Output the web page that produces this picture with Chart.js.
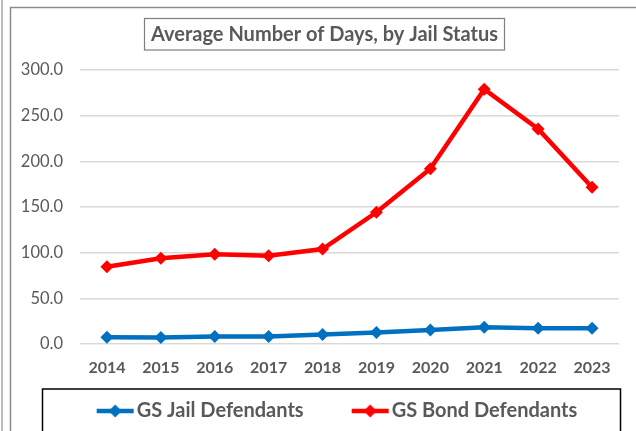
<!DOCTYPE html>
<html>
<head>
<meta charset="utf-8">
<style>
  html, body { margin: 0; padding: 0; background: #ffffff; }
  #wrap { width: 636px; height: 431px; position: relative; }
</style>
<script src="https://cdn.jsdelivr.net/npm/chart.js@4.4.1/dist/chart.umd.min.js"></script>
</head>
<body>
<div id="wrap"><canvas id="c" width="636" height="431"></canvas></div>
<script>
const years = ['2014', '2015', '2016', '2017', '2018', '2019', '2020', '2021', '2022', '2023'];
const jailDays = [7.4, 7.2, 8.2, 8.2, 10.3, 12.7, 15.2, 18.4, 17.2, 17.3];
const bondDays = [84.6, 93.8, 98.2, 96.7, 104.0, 144.2, 192.0, 278.9, 235.4, 171.6];
const seriesNames = ['GS Jail Defendants', 'GS Bond Defendants'];
const chartTitle = 'Average Number of Days, by Jail Status';

const BLUE = '#0070c0';
const RED = '#ff0000';
const GREY_TEXT = '#595959';
const FONT = 'Lato';

function legendMarker(color) {
  const cv = document.createElement('canvas');
  cv.width = 100; cv.height = 16;
  const g = cv.getContext('2d');
  g.strokeStyle = color; g.lineWidth = 4.5;
  g.beginPath(); g.moveTo(54, 8); g.lineTo(91, 8); g.stroke();
  g.fillStyle = color;
  g.beginPath(); g.moveTo(72.5, 1.5); g.lineTo(79, 8); g.lineTo(72.5, 14.5); g.lineTo(66, 8); g.closePath(); g.fill();
  return cv;
}
const markers = [legendMarker(BLUE), legendMarker(RED)];

const framePlugin = {
  id: 'framePlugin',
  afterLayout(chart) {
    if (chart.titleBlock) { chart.titleBlock.left = 13; }
  },
  beforeDraw(chart) {
    const ctx = chart.ctx;
    ctx.save();
    ctx.fillStyle = '#ffffff';
    ctx.fillRect(0, 0, chart.width, chart.height);
    ctx.strokeStyle = '#a6a6a6';
    ctx.lineWidth = 1.5;
    ctx.beginPath(); ctx.moveTo(2, 0); ctx.lineTo(2, chart.height); ctx.stroke();
    ctx.strokeStyle = '#8c8c8c';
    ctx.beginPath(); ctx.moveTo(10.5, chart.height + 5); ctx.lineTo(10.5, 7.5); ctx.lineTo(chart.width + 5, 7.5); ctx.stroke();
    ctx.restore();
  },
  afterDraw(chart) {
    const ctx = chart.ctx;
    ctx.save();
    ctx.strokeStyle = '#7f7f7f';
    ctx.lineWidth = 1.2;
    ctx.strokeRect(144.5, 18.5, 360, 31.5);
    const lg = chart.legend;
    ctx.strokeStyle = '#000000';
    ctx.lineWidth = 1.5;
    ctx.strokeRect(42.5, lg.top - 2, 578, 60);
    ctx.restore();
  }
};

new Chart(document.getElementById('c'), {
  type: 'line',
  data: {
    labels: years,
    datasets: [
      {
        label: seriesNames[0], data: jailDays,
        borderColor: BLUE, backgroundColor: BLUE, borderWidth: 4.5,
        pointStyle: 'rectRot', pointRadius: 6.5, pointHoverRadius: 6.5,
        pointBackgroundColor: BLUE, pointBorderColor: BLUE, pointBorderWidth: 0,
        tension: 0
      },
      {
        label: seriesNames[1], data: bondDays,
        borderColor: RED, backgroundColor: RED, borderWidth: 4.5,
        pointStyle: 'rectRot', pointRadius: 6.5, pointHoverRadius: 6.5,
        pointBackgroundColor: RED, pointBorderColor: RED, pointBorderWidth: 0,
        tension: 0
      }
    ]
  },
  options: {
    responsive: false,
    animation: false,
    devicePixelRatio: 1,
    layout: { padding: { left: 0, right: 0, top: 0, bottom: 0 } },
    plugins: {
      title: {
        display: true,
        text: chartTitle,
        color: GREY_TEXT,
        font: { family: FONT, size: 20, weight: 'bold', lineHeight: 1.2 },
        padding: { top: 23, bottom: 23 }
      },
      legend: {
        display: true,
        position: 'bottom',
        maxHeight: 40,
        labels: {
          usePointStyle: true,
          pointStyleWidth: 68,
          padding: 10,
          color: GREY_TEXT,
          font: { family: FONT, size: 20, weight: 'bold' },
          generateLabels(chart) {
            return chart.data.datasets.map((ds, i) => ({
              text: ds.label,
              fillStyle: ds.borderColor,
              strokeStyle: ds.borderColor,
              lineWidth: 0,
              pointStyle: markers[i],
              fontColor: GREY_TEXT,
              hidden: false,
              datasetIndex: i
            }));
          }
        }
      },
      tooltip: { enabled: false }
    },
    scales: {
      x: {
        offset: true,
        grid: { display: false, drawTicks: false },
        border: { display: false },
        ticks: {
          color: GREY_TEXT,
          font: { family: FONT, size: 16, weight: 'bold' },
          padding: 14,
          maxRotation: 0
        },
        afterFit(s) { s.height = 47; }
      },
      y: {
        min: 0, max: 300,
        grid: { color: '#d9d9d9', lineWidth: 1.5, drawTicks: false },
        border: { display: false },
        ticks: {
          stepSize: 50,
          color: GREY_TEXT,
          font: { family: FONT, size: 16.5 },
          padding: 17,
          callback: (v) => Number(v).toFixed(1)
        },
        afterFit(s) { s.width = 80; }
      },
      yR: {
        position: 'right',
        display: true,
        grid: { display: false, drawTicks: false },
        border: { display: false },
        ticks: { display: false },
        afterFit(s) { s.width = 17; }
      }
    }
  },
  plugins: [framePlugin]
});
</script>
</body>
</html>
